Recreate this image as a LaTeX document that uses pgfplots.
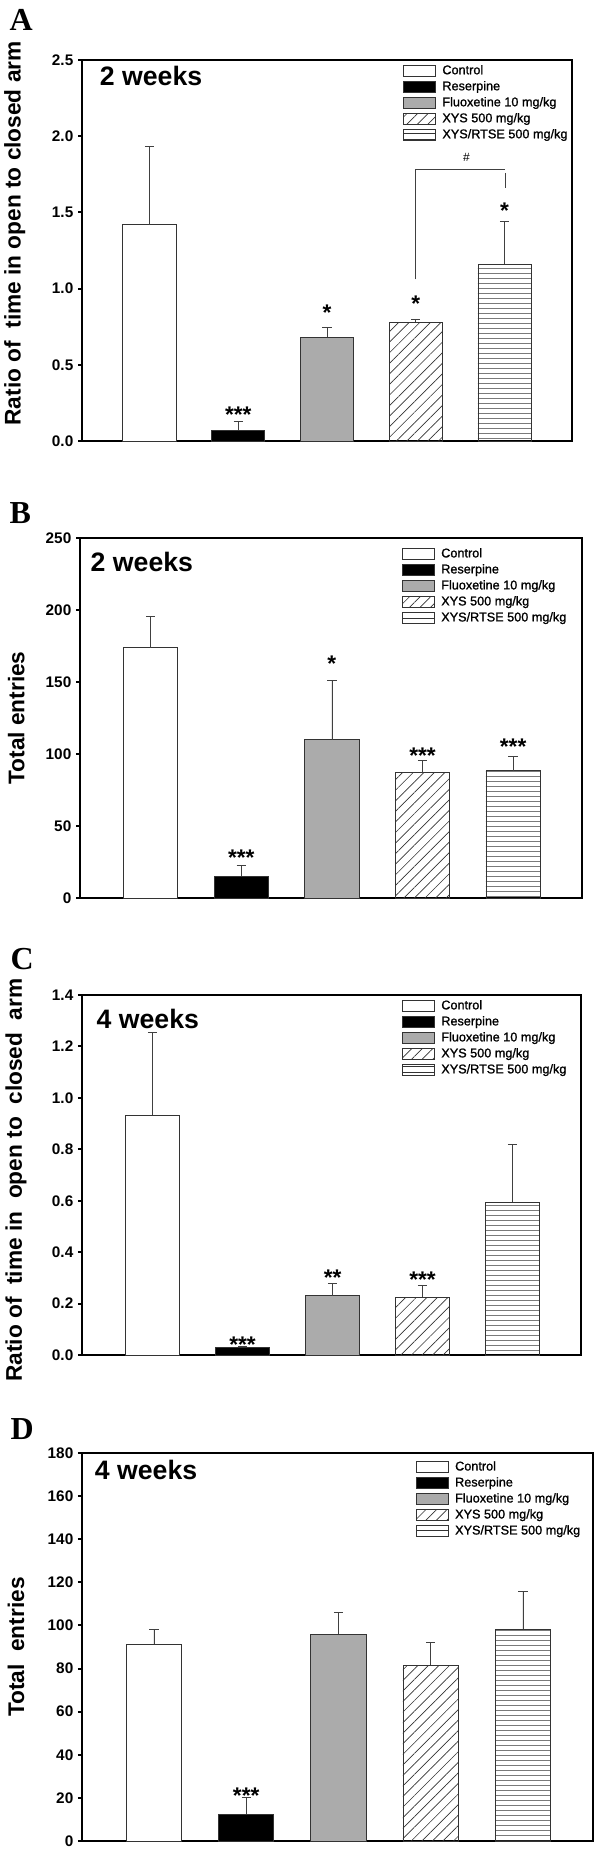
\documentclass[border=0pt]{standalone}
\usepackage{fontspec}
\setmainfont{Liberation Sans}
\newfontfamily\panelfont{Liberation Serif}
\newfontfamily\legfont[FakeBold=1.2]{Liberation Sans}
\usepackage{pgfplots}
\pgfplotsset{compat=1.18}
\usetikzlibrary{patterns.meta}

\pgfplotsset{
  panel/.style={
    scale only axis, anchor=north west, clip=false,
    axis line style={line width=1.9pt},
    xtick=\empty, ytick pos=left, tick align=outside,
    major tick length=3pt,
    ytick style={line width=1.5pt, black},
    yticklabel style={font=\bfseries\fontsize{11.5}{12}\selectfont},
    /pgf/number format/assume math mode=true,
    ymin=0,
    legend cell align=left,
    legend style={draw=none, fill=none, inner sep=0pt, outer sep=0pt, anchor=north west,
      font=\legfont\fontsize{9.5}{10}\selectfont, row sep=3pt, column sep=5pt,
      nodes={inner sep=0pt, text height=7pt, text depth=2pt}},
    every axis y label/.style={rotate=90, anchor=center, font=\bfseries\fontsize{17}{18}\selectfont},
    legend entries={Control, Reserpine, Fluoxetine 10 mg/kg, XYS 500 mg/kg, XYS/RTSE 500 mg/kg},
  },
  barbase/.style={ybar, bar shift=0pt, bar width=0.6, draw=black!80, line width=0.6pt,
    /pgfplots/legend image code/.code={\draw[##1, line width=0.6pt] (0pt,-4.1pt) rectangle (24pt,4.1pt);},
    /pgfplots/error bars/y dir=plus, /pgfplots/error bars/y explicit,
    /pgfplots/error bars/error bar style={black!75, line width=0.6pt},
    /pgfplots/error bars/error mark options={black!75, line width=0.6pt, mark size=3.5pt, rotate=90}},
  ctrl/.style={barbase, fill=white},
  resp/.style={barbase, fill=black},
  fluo/.style={barbase, fill=black!33},
  xys/.style={barbase, fill=white, pattern={Lines[angle=45, distance=5.6pt, line width=0.5pt]}, pattern color=black!80},
  rtse/.style={barbase, fill=white, pattern={Lines[angle=0, distance=4pt, line width=0.5pt]}, pattern color=black!80},
}
\newcommand{\sig}[3]{\node[font=\bfseries\fontsize{17}{17}\selectfont, anchor=base, yshift=-10pt] at (axis cs:#1,#2) {#3};}
\newcommand{\weeks}[3]{\node[font=\bfseries\fontsize{20}{20}\selectfont, anchor=base west] at (axis description cs:#1,#2) {#3};}

\begin{document}
\begin{tikzpicture}
\useasboundingbox (0,0) rectangle (450pt,-1388.25pt);

% ---------------- A ----------------
\node[font=\panelfont\bfseries\fontsize{24}{24}\selectfont, anchor=base west] at (3.75pt,-23.25pt) {A};
\begin{axis}[panel, at={(61.5pt,-45pt)}, width=367.5pt, height=285.75pt,
  xmin=-0.76, xmax=4.76, ymax=2.5, ytick={0,0.5,...,2.5},
  yticklabel style={/pgf/number format/.cd, fixed, fixed zerofill, precision=1},
  ylabel={Ratio of\ \ time in open to closed arm},
  ylabel style={at={(axis description cs:-0.137,0.545)}},
  legend style={at={(axis description cs:0.655,0.987)}}]
\addplot[ctrl] coordinates {(0,1.42) +- (0,0.51)};
\addplot[resp] coordinates {(1,0.07) +- (0,0.06)};
\addplot[fluo] coordinates {(2,0.68) +- (0,0.065)};
\addplot[xys] coordinates {(3,0.78) +- (0,0.02)};
\addplot[rtse] coordinates {(4,1.16) +- (0,0.28)};
\weeks{0.027}{0.934}{2 weeks}
\sig{1}{0.21}{***}
\sig{2}{0.88}{*}
\sig{3}{0.94}{*}
\sig{4}{1.55}{*}
\draw[black!75, line width=0.6pt] (axis cs:3,1.06) -- (axis cs:3,1.78) -- (axis cs:4.01,1.78);
\draw[black!75, line width=0.6pt] (axis cs:4.01,1.76) -- (axis cs:4.01,1.66);
\node[font=\fontsize{9}{9}\selectfont] at (axis cs:3.57,1.86) {\#};
\end{axis}

% ---------------- B ----------------
\node[font=\panelfont\bfseries\fontsize{24}{24}\selectfont, anchor=base west] at (3.75pt,-392.25pt) {B};
\begin{axis}[panel, at={(60pt,-403.5pt)}, width=376.5pt, height=270pt,
  xmin=-0.78, xmax=4.76, ymax=250, ytick={0,50,...,250},
  ylabel={Total entries},
  ylabel style={at={(axis description cs:-0.127,0.5)}},
  legend style={at={(axis description cs:0.641,0.972)}}]
\addplot[ctrl] coordinates {(0,173.8) +- (0,21.5)};
\addplot[resp] coordinates {(1,15.3) +- (0,7.2)};
\addplot[fluo] coordinates {(2,109.8) +- (0,41)};
\addplot[xys] coordinates {(3,86.9) +- (0,8.8)};
\addplot[rtse] coordinates {(4,88.5) +- (0,10)};
\weeks{0.012}{0.908}{2 weeks}
\sig{1}{31.7}{***}
\sig{2}{166.8}{*}
\sig{3}{103}{***}
\sig{4}{109}{***}
\end{axis}

% ---------------- C ----------------
\node[font=\panelfont\bfseries\fontsize{24}{24}\selectfont, anchor=base west] at (4.5pt,-726.75pt) {C};
\begin{axis}[panel, at={(61.5pt,-746.25pt)}, width=374.25pt, height=270pt,
  xmin=-0.784, xmax=4.76, ymax=1.4, ytick={0,0.2,...,1.4},
  yticklabel style={/pgf/number format/.cd, fixed, fixed zerofill, precision=1},
  ylabel={Ratio of\ \ time in\ \ open to\ \ closed\ \ arm},
  ylabel style={at={(axis description cs:-0.132,0.486)}},
  legend style={at={(axis description cs:0.641,0.986)}}]
\addplot[ctrl] coordinates {(0,0.932) +- (0,0.321)};
\addplot[resp] coordinates {(1,0.030) +- (0,0.005)};
\addplot[fluo] coordinates {(2,0.230) +- (0,0.05)};
\addplot[xys] coordinates {(3,0.225) +- (0,0.045)};
\addplot[rtse] coordinates {(4,0.594) +- (0,0.225)};
\weeks{0.02}{0.908}{4 weeks}
\sig{1}{0.0625}{***}
\sig{2}{0.323}{**}
\sig{3}{0.314}{***}
\end{axis}

% ---------------- D ----------------
\node[font=\panelfont\bfseries\fontsize{24}{24}\selectfont, anchor=base west] at (4.5pt,-1079.25pt) {D};
\begin{axis}[panel, at={(61.5pt,-1089.75pt)}, width=383.25pt, height=291pt,
  xmin=-0.78, xmax=4.76, ymax=180, ytick={0,20,...,180},
  ylabel={Total\ \ entries},
  ylabel style={at={(axis description cs:-0.129,0.5)}},
  legend style={at={(axis description cs:0.653,0.979)}}]
\addplot[ctrl] coordinates {(0,91.2) +- (0,7)};
\addplot[resp] coordinates {(1,12.4) +- (0,7.7)};
\addplot[fluo] coordinates {(2,95.9) +- (0,10.3)};
\addplot[xys] coordinates {(3,81.5) +- (0,10.8)};
\addplot[rtse] coordinates {(4,98.2) +- (0,17.6)};
\weeks{0.016}{0.933}{4 weeks}
\sig{1}{23.5}{***}
\end{axis}
\end{tikzpicture}
\end{document}
